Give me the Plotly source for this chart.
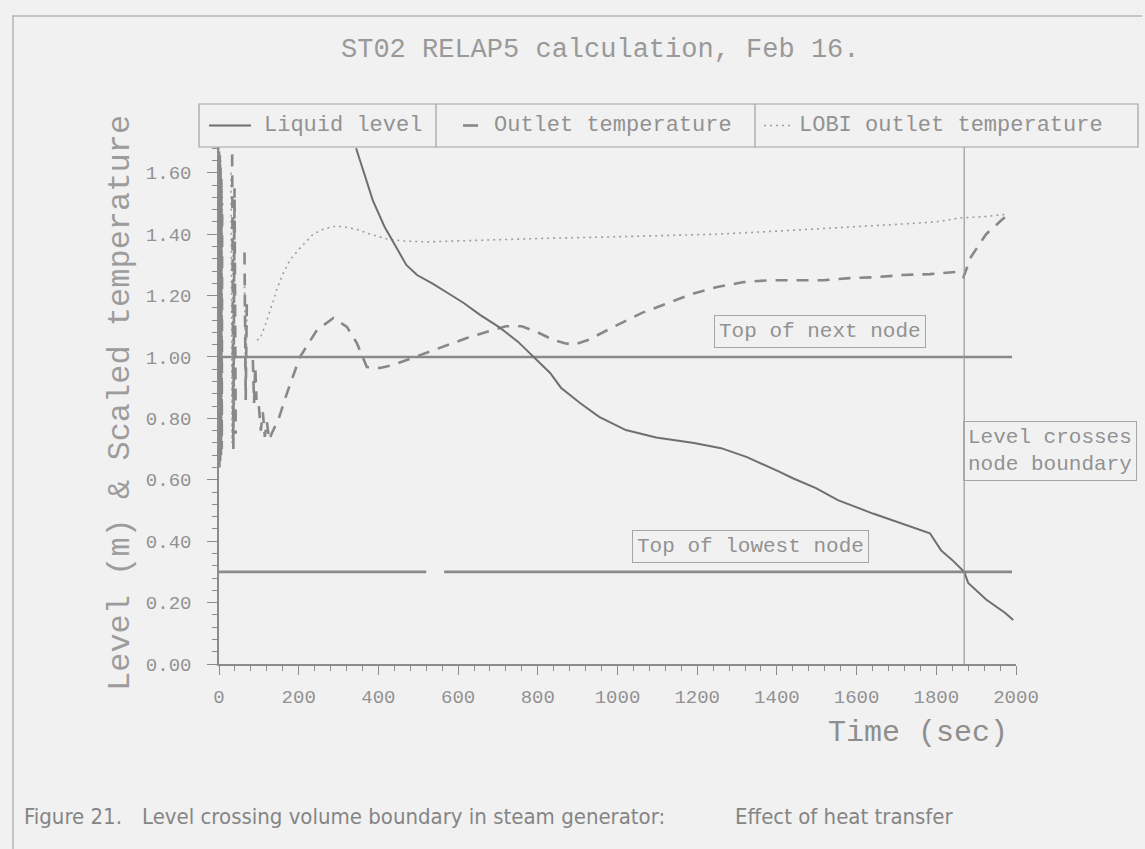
import plotly.graph_objects as go

# ---------------------------------------------------------------------------
# Data: ST02 RELAP5 steam-generator calculation
# ---------------------------------------------------------------------------
# Collapsed liquid level (m) vs time (s)
time_level = [344, 365, 386, 415, 447, 470, 497, 535, 572, 615, 655, 700, 750,
              790, 831, 858, 906, 954, 1021, 1097, 1192, 1260, 1325, 1403, 1440,
              1498, 1553, 1641, 1720, 1784, 1812, 1839, 1870, 1880, 1925, 1973, 1993]
liquid_level = [1.68, 1.595, 1.51, 1.425, 1.35, 1.30, 1.267, 1.24, 1.21, 1.175,
                1.137, 1.10, 1.05, 1.00, 0.948, 0.90, 0.85, 0.805, 0.762, 0.738,
                0.72, 0.703, 0.674, 0.628, 0.605, 0.573, 0.534, 0.49, 0.455, 0.426,
                0.37, 0.34, 0.30, 0.264, 0.21, 0.166, 0.143]

# Scaled outlet temperature (RELAP5); None separates the start-up bursts
time_outlet = [0, 1, 2, 3, 4, 5, 6, 7, 8, None,
               33, 36, 39, 42, None,
               64, 67, 70, None,
               85, 88, 91, 94, None,
               100, 105, 110, 115, 120, 126, 132, 150, 170, 203, 246, 287, 321,
               346, 371, 404, 437, 471, 537, 622, 680, 720, 760, 800, 840, 868,
               890, 926, 993, 1060, 1127, 1193, 1250, 1317, 1383, 1450, 1516,
               1583, 1649, 1716, 1784, 1850, 1868, 1887, 1925, 1964, 1985]
outlet_temp = [1.67, 0.64, 1.66, 0.66, 1.62, 0.68, 1.58, 0.70, 1.50, None,
               1.66, 0.70, 1.55, 0.75, None,
               1.34, 0.86, 1.20, None,
               0.99, 0.85, 0.97, 0.86, None,
               0.84, 0.76, 0.82, 0.74, 0.79, 0.73, 0.75, 0.80, 0.88, 1.00, 1.088,
               1.127, 1.098, 1.045, 0.967, 0.964, 0.974, 0.99, 1.023, 1.062,
               1.085, 1.10, 1.10, 1.08, 1.055, 1.045, 1.04, 1.055, 1.10, 1.143,
               1.176, 1.208, 1.228, 1.244, 1.25, 1.25, 1.25, 1.257, 1.26, 1.267,
               1.27, 1.277, 1.26, 1.326, 1.40, 1.446, 1.47]

# Scaled LOBI outlet temperature (measured)
time_lobi = [0, 2, 4, 6, 8, None,
             30, 33, 36, 39, None,
             64, 67, 70, None,
             95, 103, 115, 123, 137, 145, 160, 178, 200, 236, 260, 286, 310, 347,
             380, 420, 460, 520, 600, 700, 831, 950, 1100, 1250, 1400, 1550,
             1700, 1800, 1860, 1920, 1975]
lobi_temp = [1.68, 0.70, 1.64, 0.72, 1.55, None,
             1.60, 0.72, 1.45, 0.80, None,
             1.25, 0.88, 1.15, None,
             1.055, 1.06, 1.10, 1.13, 1.185, 1.22, 1.27, 1.316, 1.35, 1.40, 1.415,
             1.425, 1.425, 1.415, 1.40, 1.385, 1.378, 1.375, 1.378, 1.383, 1.387,
             1.39, 1.395, 1.40, 1.41, 1.42, 1.432, 1.44, 1.453, 1.457, 1.465]

# Node boundaries (m) and the span over which they are drawn (s)
next_node_top = 1.0
lowest_node_top = 0.3
node_line_time = [0, 1990]
lowest_node_time = [0, 520, None, 565, 1990]   # pen skip on the lower boundary
crossing_time = 1870                           # level crosses node boundary

x_ticks = [0, 200, 400, 600, 800, 1000, 1200, 1400, 1600, 1800, 2000]
y_ticks = [0.0, 0.2, 0.4, 0.6, 0.8, 1.0, 1.2, 1.4, 1.6]
y_tick_labels = ["0.00", "0.20", "0.40", "0.60", "0.80", "1.00", "1.20", "1.40", "1.60"]

# ---------------------------------------------------------------------------
# Styling
# ---------------------------------------------------------------------------
W, H = 1145, 849
PL, PR, PT, PB = 219, 1016, 147, 664          # plot area in pixels
BG = "#f1f1f1"
INK = "#8c8c8c"
TEXT = "#929292"
MONO = "Liberation Mono, DejaVu Sans Mono, monospace"
NARROW = "Liberation Sans Narrow, DejaVu Sans Condensed, Liberation Sans, sans-serif"

SOLID = dict(color="#6f6f6f", width=2)
DASHED = dict(color="#888888", width=2.6, dash="12px,9px")
DOTTED = dict(color="#9e9e9e", width=1.6, dash="2px,4px")


def px_x(p):
    return (p - PL) / (PR - PL)


def px_y(p):
    return (PB - p) / (PB - PT)


fig = go.Figure()

# node boundaries
fig.add_trace(go.Scatter(x=node_line_time, y=[next_node_top] * len(node_line_time),
                         mode="lines", line=dict(color="#8a8a8a", width=2.6),
                         hoverinfo="skip", showlegend=False))
fig.add_trace(go.Scatter(x=lowest_node_time,
                         y=[None if t is None else lowest_node_top for t in lowest_node_time],
                         mode="lines", line=dict(color="#8a8a8a", width=2.6),
                         hoverinfo="skip", showlegend=False, connectgaps=False))

# series
fig.add_trace(go.Scatter(x=time_lobi, y=lobi_temp, mode="lines", line=DOTTED,
                         name="LOBI outlet temperature", showlegend=False,
                         connectgaps=False))
fig.add_trace(go.Scatter(x=time_outlet, y=outlet_temp, mode="lines", line=DASHED,
                         name="Outlet temperature", showlegend=False,
                         connectgaps=False))
fig.add_trace(go.Scatter(x=time_level, y=liquid_level, mode="lines", line=SOLID,
                         name="Liquid level", showlegend=False))

shapes = []
annotations = []

# vertical marker where the level crosses the lower node boundary
shapes.append(dict(type="line", xref="x", yref="paper", x0=crossing_time,
                   x1=crossing_time, y0=0, y1=1, line=dict(color="#9a9a9a", width=1.2)))

# page frame (scanned sheet border)
shapes.append(dict(type="line", xref="paper", yref="paper", x0=px_x(12), x1=px_x(1142),
                   y0=px_y(16), y1=px_y(16), line=dict(color="#b4b4b4", width=1.5)))
shapes.append(dict(type="line", xref="paper", yref="paper", x0=px_x(13), x1=px_x(13),
                   y0=px_y(16), y1=px_y(849), line=dict(color="#b4b4b4", width=1.5)))

# legend box with three cells
LEG_T, LEG_B = 104, 147
LEG_L, LEG_R = 199, 1138
DIV1, DIV2 = 436, 755
shapes.append(dict(type="rect", xref="paper", yref="paper", x0=px_x(LEG_L), x1=px_x(LEG_R),
                   y0=px_y(LEG_B), y1=px_y(LEG_T), line=dict(color="#a2a2a2", width=1.2)))
for d in (DIV1, DIV2):
    shapes.append(dict(type="line", xref="paper", yref="paper", x0=px_x(d), x1=px_x(d),
                       y0=px_y(LEG_B), y1=px_y(LEG_T), line=dict(color="#a2a2a2", width=1.2)))
leg_mid = (LEG_T + LEG_B) / 2
shapes.append(dict(type="line", xref="paper", yref="paper", x0=px_x(209), x1=px_x(251),
                   y0=px_y(leg_mid), y1=px_y(leg_mid), line=SOLID))
shapes.append(dict(type="line", xref="paper", yref="paper", x0=px_x(463), x1=px_x(478),
                   y0=px_y(leg_mid), y1=px_y(leg_mid),
                   line=dict(color=DASHED["color"], width=DASHED["width"])))
shapes.append(dict(type="line", xref="paper", yref="paper", x0=px_x(764), x1=px_x(790),
                   y0=px_y(leg_mid), y1=px_y(leg_mid), line=DOTTED))
for label, left in (("Liquid level", 262), ("Outlet temperature", 492),
                    ("LOBI outlet temperature", 797)):
    annotations.append(dict(text=label, xref="paper", yref="paper", x=px_x(left),
                            y=px_y(leg_mid), xanchor="left", yanchor="middle",
                            showarrow=False, font=dict(family=MONO, size=22, color=TEXT)))

# title
annotations.append(dict(text="ST02 RELAP5 calculation, Feb 16.", xref="paper", yref="paper",
                        x=px_x(600), y=px_y(50), xanchor="center", yanchor="middle",
                        showarrow=False, font=dict(family=MONO, size=27, color="#999999")))

# axis titles
annotations.append(dict(text="Level (m) & Scaled temperature", xref="paper", yref="paper",
                        x=px_x(120), y=px_y(403), xanchor="center", yanchor="middle",
                        textangle=-90, showarrow=False,
                        font=dict(family=MONO, size=32, color="#9c9c9c")))
annotations.append(dict(text="Time (sec)", xref="paper", yref="paper",
                        x=px_x(918), y=px_y(733), xanchor="center", yanchor="middle",
                        showarrow=False, font=dict(family=MONO, size=30, color="#8e8e8e")))

# boxed notes
box_font = dict(family=MONO, size=21, color=TEXT)
annotations.append(dict(text="Top of next node", xref="paper", yref="paper",
                        x=px_x(820), y=px_y(331), xanchor="center", yanchor="middle",
                        showarrow=False, font=box_font, bordercolor="#a6a6a6",
                        borderwidth=1, borderpad=4))
annotations.append(dict(text="Top of lowest node", xref="paper", yref="paper",
                        x=px_x(750), y=px_y(546), xanchor="center", yanchor="middle",
                        showarrow=False, font=box_font, bordercolor="#a6a6a6",
                        borderwidth=1, borderpad=4))
annotations.append(dict(text="Level crosses<br>node boundary", xref="paper", yref="paper",
                        x=px_x(963), y=px_y(451), xanchor="left", yanchor="middle",
                        align="left", showarrow=False, font=box_font,
                        bordercolor="#a6a6a6", borderwidth=1, borderpad=4))

# caption
cap_font = dict(family=NARROW, size=22, color="#858585")
for text, left in (("Figure 21.", 22), ("Level crossing volume boundary in steam generator:", 140),
                   ("Effect of heat transfer", 733)):
    annotations.append(dict(text=text, xref="paper", yref="paper", x=px_x(left),
                            y=px_y(816), xanchor="left", yanchor="middle",
                            showarrow=False, font=cap_font))

tick_font = dict(family=MONO, size=19, color=TEXT)
fig.update_layout(
    width=W, height=H, autosize=False,
    margin=dict(l=PL, r=W - PR, t=PT, b=H - PB, pad=0),
    paper_bgcolor=BG, plot_bgcolor="rgba(0,0,0,0)",
    showlegend=False,
    shapes=shapes, annotations=annotations,
    xaxis=dict(range=[0, 2000], tickvals=x_ticks, ticktext=[str(v) for v in x_ticks],
               showline=True, linecolor=INK, linewidth=1.5, ticks="outside", ticklen=9,
               tickcolor=INK, tickwidth=1.2, showgrid=False, zeroline=False,
               tickfont=tick_font, ticklabelstandoff=5,
               minor=dict(dtick=40, ticks="outside", ticklen=5, tickcolor=INK,
                          tickwidth=1, showgrid=False)),
    yaxis=dict(range=[0, 1.684], tickvals=y_ticks, ticktext=y_tick_labels,
               showline=True, linecolor=INK, linewidth=1.5, ticks="outside", ticklen=10,
               tickcolor=INK, tickwidth=1.2, showgrid=False, zeroline=False,
               tickfont=tick_font, ticklabelstandoff=12,
               minor=dict(dtick=0.04, ticks="outside", ticklen=5, tickcolor=INK,
                          tickwidth=1, showgrid=False)),
)

fig.write_html("out.html")
